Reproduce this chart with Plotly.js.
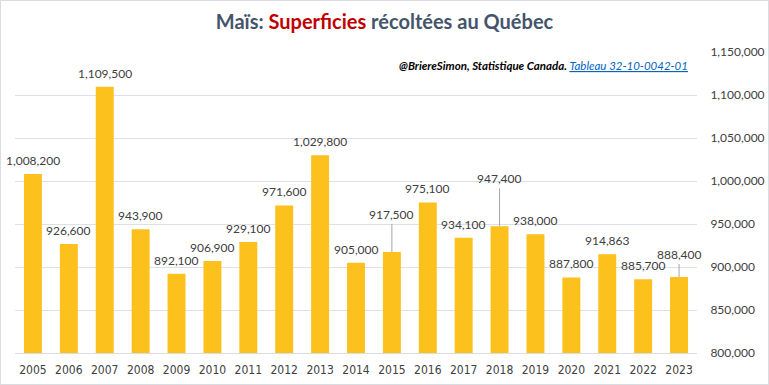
<!DOCTYPE html>
<html><head><meta charset="utf-8">
<script src="https://cdn.plot.ly/plotly-3.0.1.min.js"></script>
<style>
html,body{margin:0;padding:0;background:#fff}
#wrap{width:767px;height:383px;border:1px solid #D9DCE1}
</style>
</head><body>
<div id="wrap"><div id="chart" style="width:767px;height:383px"></div></div>
<script>
const years = ['2005','2006','2007','2008','2009','2010','2011','2012','2013','2014','2015','2016','2017','2018','2019','2020','2021','2022','2023'];
const superficies = [1008200,926600,1109500,943900,892100,906900,929100,971600,1029800,905000,917500,975100,934100,947400,938000,887800,914863,885700,888400];
const yTicks = [800000,850000,900000,950000,1000000,1050000,1100000,1150000];

const fmt = v => v.toLocaleString('en-US');
const font = 'Lato, "Open Sans", sans-serif';
const narrow = '"Liberation Sans Narrow", "DejaVu Sans Condensed", sans-serif';
// label leader offsets (px) for labels drawn with a connector line
const leaders = {'2015': -28, '2018': -38, '2023': -13};

const annotations = years.map((y,i) => {
  const lead = y in leaders;
  return {
    x: i, y: superficies[i], xref:'x', yref:'y',
    text: fmt(superficies[i]),
    showarrow: lead, ax: 0, ay: lead ? leaders[y] : 0,
    arrowhead: 0, arrowwidth: 1, arrowcolor: '#A6A6A6', standoff: 0,
    yanchor: 'bottom', yshift: lead ? 0 : 4,
    font: {family: font, size: 12, color: '#404040'}
  };
});
annotations.push({
  xref:'paper', yref:'paper', x: 0.99, y: 0.955, xanchor:'right', yanchor:'middle', showarrow:false,
  text: '<b><i>@BriereSimon, Statistique Canada. </i></b><i><span style="color:#0563C1;text-decoration:underline">Tableau 32-10-0042-01</span></i>',
  font: {family: font, size: 11.5, color: '#000'}
});

const trace = {
  type:'bar', x: years, y: superficies,
  marker: {color:'#FCC11C', line:{width:0}},
  hoverinfo:'none'
};

const layout = {
  width: 767, height: 383,
  margin: {l:14, r:71, t:51, b:31},
  paper_bgcolor:'#fff', plot_bgcolor:'#fff',
  bargap: 0.5,
  showlegend:false,
  title: {
    text: 'Maïs: <span style="color:#C00000">Superficies</span> récoltées au Québec',
    x: 0.5, xanchor:'center', y: 0.945, yanchor:'middle',
    font: {family: font, size: 20, color:'#44546A', weight: 700}
  },
  xaxis: {
    type:'category', range:[-0.5, 18.5], autorange:false, automargin:false,
    tickfont:{family:narrow, size:12, color:'#404040'},
    showline:true, linecolor:'#D9DCE1', linewidth:1, showgrid:false,
    ticks:'outside', ticklen:6, tickcolor:'rgba(0,0,0,0)'
  },
  yaxis: {
    side:'right', range:[800000,1150000], autorange:false, automargin:false,
    tickvals: yTicks, ticktext: yTicks.map(fmt),
    tickfont:{family:font, size:12, color:'#404040'},
    showgrid:true, gridcolor:'#DDE1E7', gridwidth:1, zeroline:false, showline:false,
    ticks:'outside', ticklen:10, tickcolor:'rgba(0,0,0,0)'
  },
  annotations: annotations
};

Plotly.newPlot('chart', [trace], layout, {staticPlot:true});
</script></body></html>
